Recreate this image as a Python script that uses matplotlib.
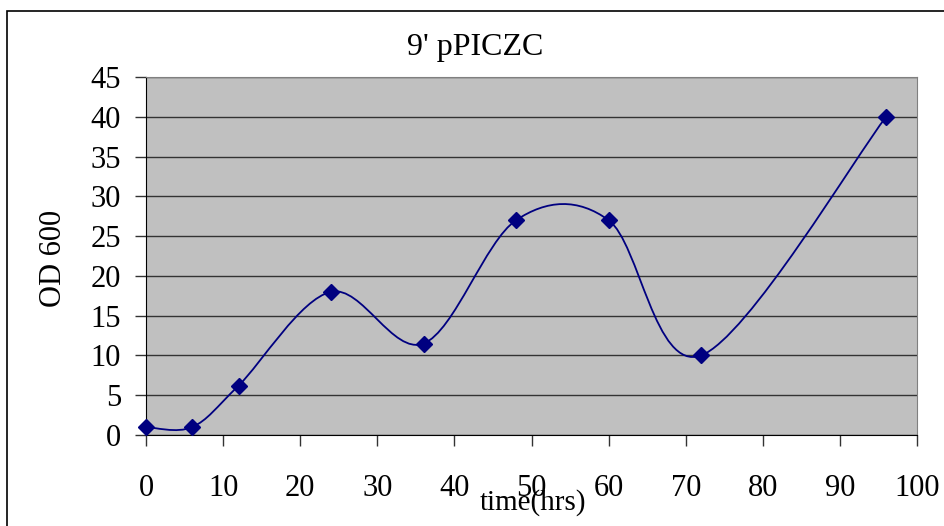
import matplotlib
matplotlib.use("Agg")
import matplotlib.pyplot as plt
from matplotlib.path import Path
from matplotlib.patches import PathPatch, Rectangle
import numpy as np

# data
hours = [0, 6, 12, 24, 36, 48, 60, 72, 96]
od600 = [1, 1, 6.2, 18, 11.5, 27, 27, 10, 40]

title = "9' pPICZC"
x_ticks = [0, 10, 20, 30, 40, 50, 60, 70, 80, 90, 100]
y_ticks = [0, 5, 10, 15, 20, 25, 30, 35, 40, 45]

NAVY = "#000080"
FS = 22
plt.rcParams['font.family'] = ['Liberation Serif', 'DejaVu Serif']

fig = plt.figure(figsize=(9.44, 5.26), dpi=100)
ax = fig.add_axes([146 / 944, 1 - 435 / 526, (917 - 146) / 944, (435 - 77) / 526])
ax.set_facecolor("#C0C0C0")
ax.set_xlim(0, 100)
ax.set_ylim(0, 45)
ax.set_xticks(x_ticks)
ax.set_yticks(y_ticks)
ax.tick_params(labelsize=FS, length=8, width=1, color="#333333")
ax.tick_params(axis='x', pad=20)
ax.tick_params(axis='y', pad=10)
ax.yaxis.grid(True, color="#333333", lw=1)
ax.set_axisbelow(True)
for s in ['left', 'bottom']:
    ax.spines[s].set_color("black")
for s in ['top', 'right']:
    ax.spines[s].set_color("#808080")

# smoothed line (bezier through the points, like excel's smoothing)
pts = np.column_stack([hours, od600]).astype(float)
verts = [pts[0]]
codes = [Path.MOVETO]
n = len(pts)
for i in range(n - 1):
    p0 = pts[max(i - 1, 0)]
    p1 = pts[i]
    p2 = pts[i + 1]
    p3 = pts[min(i + 2, n - 1)]
    verts += [p1 + (p2 - p0) / 6, p2 - (p3 - p1) / 6, p2]
    codes += [Path.CURVE4] * 3
ax.add_patch(PathPatch(Path(verts, codes), facecolor='none', edgecolor=NAVY, lw=1.3))
ax.plot(hours, od600, ls='none', marker='D', ms=8, color=NAVY, clip_on=False, zorder=5)

fig.text(475 / 944, 1 - 48 / 526, title, ha='center', va='center', fontsize=FS + 1)
ax.set_ylabel("OD 600", fontsize=FS)
ax.yaxis.set_label_coords((68 - 146) / 771, (435 - 258) / 358)
fig.text(533 / 944, 1 - 503 / 526, "time(hrs)", ha='center', va='center', fontsize=FS - 1)

# outer chart border
fig.patches.append(Rectangle((7 / 944, -0.05), 1.2, 1 - 11 / 526 + 0.05, transform=fig.transFigure,
                             fill=False, edgecolor="black", lw=1.2))

fig.savefig("out.png", dpi=100)
